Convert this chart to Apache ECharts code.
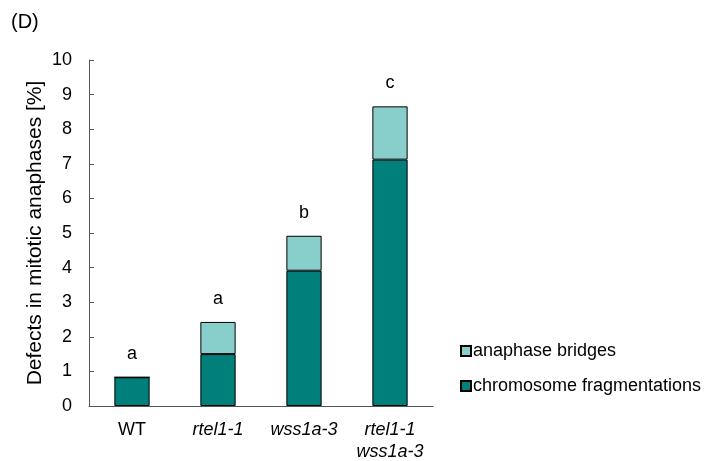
<!DOCTYPE html>
<html>
<head>
<meta charset="utf-8">
<script src="https://cdn.jsdelivr.net/npm/echarts@6/dist/echarts.min.js"></script>
<style>html,body{margin:0;padding:0;background:#fff;}#c{width:712px;height:461px;}</style>
</head>
<body>
<div id="c"></div>
<script>
const categories = ['WT', 'rtel1-1', 'wss1a-3', 'rtel1-1\nwss1a-3'];
const fragmentations = [0.83, 1.50, 3.91, 7.12];
const bridges = [0, 0.93, 1.01, 1.54];
const letters = ['a', 'a', 'b', 'c'];
const yTicks = [0, 1, 2, 3, 4, 5, 6, 7, 8, 9, 10];

const FONT = '"Liberation Sans", Arial, sans-serif';
const chart = echarts.init(document.getElementById('c'), null, {renderer: 'canvas'});
chart.setOption({
  animation: false,
  backgroundColor: '#fff',
  textStyle: {fontFamily: FONT},
  graphic: [{
    type: 'text', left: 11, top: 12,
    style: {text: '(D)', fontSize: 20, fontFamily: FONT, fill: '#000'}
  }],
  grid: {left: 89, right: 279, top: 60, bottom: 53},
  legend: {
    orient: 'vertical', left: 455, top: 337,
    itemWidth: 10, itemHeight: 10, itemGap: 17,
    icon: 'rect',
    textStyle: {fontSize: 18, fontFamily: FONT, color: '#000', padding: [0, 0, 0, -3]},
    data: ['anaphase bridges', 'chromosome fragmentations']
  },
  xAxis: {
    type: 'category',
    data: categories,
    axisLine: {lineStyle: {color: '#555', width: 1}},
    axisTick: {show: false},
    axisLabel: {
      margin: 13, interval: 0,
      formatter: function (v) {
        if (v === 'WT') return '{n|WT}';
        return v.split('\n').map(s => '{i|' + s + '}').join('\n');
      },
      rich: {
        n: {fontSize: 18, fontFamily: FONT, color: '#000', lineHeight: 22},
        i: {fontSize: 18, fontFamily: FONT, fontStyle: 'italic', color: '#000', lineHeight: 22}
      }
    }
  },
  yAxis: {
    type: 'value', min: 0, max: 10, interval: 1,
    name: 'Defects in mitotic anaphases [%]',
    nameLocation: 'middle', nameGap: 43,
    nameTextStyle: {fontSize: 21, fontFamily: FONT, color: '#000'},
    axisLine: {show: true, lineStyle: {color: '#555', width: 1}},
    axisTick: {show: true, inside: true, length: 5, lineStyle: {color: '#555'}},
    axisLabel: {margin: 17, fontSize: 18, fontFamily: FONT, color: '#000',
      formatter: v => yTicks.includes(v) ? String(v) : ''},
    splitLine: {show: false}
  },
  series: [
    {
      name: 'chromosome fragmentations', type: 'bar', stack: 'all',
      data: fragmentations, barWidth: '41%',
      itemStyle: {color: '#007F7B', borderColor: '#000', borderWidth: 1}
    },
    {
      name: 'anaphase bridges', type: 'bar', stack: 'all',
      data: bridges, barWidth: '41%',
      itemStyle: {color: '#88CFCB', borderColor: '#000', borderWidth: 1},
      label: {
        show: true, position: 'top', distance: 14,
        fontSize: 18, fontFamily: FONT, color: '#000',
        formatter: p => letters[p.dataIndex]
      }
    }
  ]
});
</script>
</body>
</html>
